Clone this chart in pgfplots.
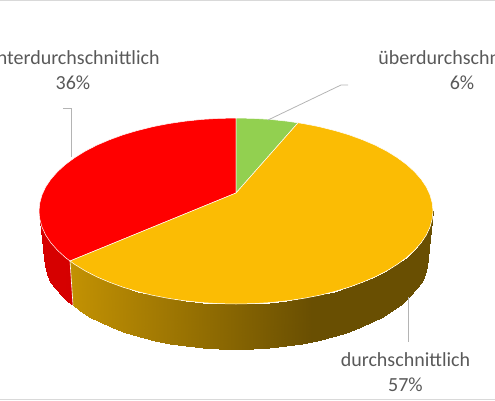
\documentclass[border=0pt]{standalone}
\usepackage{fontspec}
\setmainfont{Carlito}
\usepackage{pgfplots}
\pgfplotsset{compat=1.18}
\definecolor{txt}{HTML}{595959}
\definecolor{leader}{HTML}{B4B4B4}
\definecolor{grn}{HTML}{92D050}
\definecolor{org}{HTML}{FBBC04}
\definecolor{rd}{HTML}{FF0000}
\begin{document}
\begin{tikzpicture}
\clip (0,0) rectangle (495pt,400pt);
\begin{axis}[
    at={(0,0)}, anchor=south west,
    width=495pt, height=400pt, scale only axis,
    xmin=0, xmax=495, ymin=0, ymax=400, y dir=reverse,
    axis lines=none, clip=false
]

% frame lines of the original picture
\addplot[draw=black!15, line width=1.2pt] coordinates {(0,0.4) (495,0.4)};
\addplot[draw=black!15, line width=1.2pt] coordinates {(0,399.6) (495,399.6)};

% side of the red slice
\addplot[surf, shader=interp, mesh/rows=2, point meta=x, point meta min=39, point meta max=74,
    colormap={redside}{color=(rd!84!black) color=(rd!80!black)}] table {
x y
39.0 211
39.8 219.1
42.0 227.1
45.7 235.1
50.9 242.8
57.5 250.3
65.4 257.5
70.0 261
44.0 258
44.7 265.9
46.9 273.8
50.5 281.5
55.6 288.9
61.9 296.2
68.5 302.3
73.0 305
};

% side of the orange slice, dark towards the right
\addplot[surf, shader=interp, mesh/rows=2, point meta=x, point meta min=70, point meta max=433,
    colormap={orgside}{
      color(0cm)=(org!82!black) color(3.5cm)=(org!62!black) color(6.9cm)=(org!42!black) color(10cm)=(org!42!black)}] table {
x y
70.0 261
74.6 264.3
85.1 270.8
96.7 276.8
109.4 282.2
123.0 287.2
137.5 291.5
152.7 295.3
168.6 298.4
185.0 300.8
201.8 302.6
218.8 303.6
236.0 304
253.2 303.6
270.2 302.6
287.0 300.8
303.4 298.4
319.3 295.3
334.5 291.5
349.0 287.2
362.6 282.2
375.3 276.8
386.9 270.8
397.4 264.3
406.6 257.5
414.5 250.3
421.1 242.8
426.3 235.1
430.0 227.1
432.2 219.1
433.0 211
73.0 305
78.7 310.2
88.9 316.5
100.2 322.3
112.6 327.7
125.9 332.5
140.0 336.8
154.9 340.5
170.3 343.5
186.3 345.9
202.7 347.6
219.3 348.7
236.0 349
252.7 348.7
269.3 347.6
285.7 345.9
301.7 343.5
317.1 340.5
332.0 336.8
346.1 332.5
359.4 327.7
371.8 322.3
383.1 316.5
393.3 310.2
402.3 303.5
410.0 296.2
416.4 288.9
421.5 281.5
425.1 273.8
427.3 265.9
428.0 258
};

% divider between the two visible sides
\addplot[draw=white, line width=0.6pt] coordinates {(70,261) (73,305)};

% top faces
\addplot[fill=rd, draw=white, line width=0.5pt] coordinates {
(236,193) (70,261) (65.4,257.5) (57.5,250.3) (50.9,242.8) (45.7,235.1) (42,227.1) (39.8,219.1) (39,211)
(39.8,202.9) (42,194.9) (45.7,186.9) (50.9,179.2) (57.5,171.7) (65.4,164.5) (74.6,157.7) (85.1,151.2)
(96.7,145.2) (109.4,139.8) (123,134.8) (137.5,130.5) (152.7,126.7) (168.6,123.6) (185,121.2)
(201.8,119.4) (218.8,118.4) (236,118) (236,193)};
\addplot[fill=grn, draw=white, line width=0.5pt] coordinates {
(236,193) (236,118) (253.2,118.4) (270.2,119.4) (287,121.2) (298,122.8) (236,193)};
\addplot[fill=org, draw=white, line width=0.5pt] coordinates {
(236,193) (298,122.8) (303.4,123.6) (319.3,126.7) (334.5,130.5) (349,134.8) (362.6,139.8) (375.3,145.2)
(386.9,151.2) (397.4,157.7) (406.6,164.5) (414.5,171.7) (421.1,179.2) (426.3,186.9) (430,194.9)
(432.2,202.9) (433,211) (432.2,219.1) (430,227.1) (426.3,235.1) (421.1,242.8) (414.5,250.3) (406.6,257.5)
(397.4,264.3) (386.9,270.8) (375.3,276.8) (362.6,282.2) (349,287.2) (334.5,291.5) (319.3,295.3)
(303.4,298.4) (287,300.8) (270.2,302.6) (253.2,303.6) (236,304) (218.8,303.6) (201.8,302.6) (185,300.8)
(168.6,298.4) (152.7,295.3) (137.5,291.5) (123,287.2) (109.4,282.2) (96.7,276.8) (85.1,270.8) (74.6,264.3)
(70,261) (236,193)};

% leader lines
\addplot[draw=leader, line width=0.8pt] coordinates {(268,120) (341,85) (348,85)};
\addplot[draw=leader, line width=0.8pt] coordinates {(63,108.5) (71,108.5) (71,157)};
\addplot[draw=leader, line width=0.8pt] coordinates {(408,297) (408,342)};

% labels
\node[text=txt, font=\fontsize{20}{20}\selectfont, anchor=base] at (73,64) {unterdurchschnittlich};
\node[text=txt, font=\fontsize{20}{20}\selectfont, anchor=base] at (73,89) {36\%};
\node[text=txt, font=\fontsize{20}{20}\selectfont, anchor=base] at (462,64) {überdurchschnittlich};
\node[text=txt, font=\fontsize{20}{20}\selectfont, anchor=base] at (462,89) {6\%};
\node[text=txt, font=\fontsize{20}{20}\selectfont, anchor=base] at (405.5,366) {durchschnittlich};
\node[text=txt, font=\fontsize{20}{20}\selectfont, anchor=base] at (405.5,391) {57\%};
\end{axis}
\end{tikzpicture}
\end{document}
